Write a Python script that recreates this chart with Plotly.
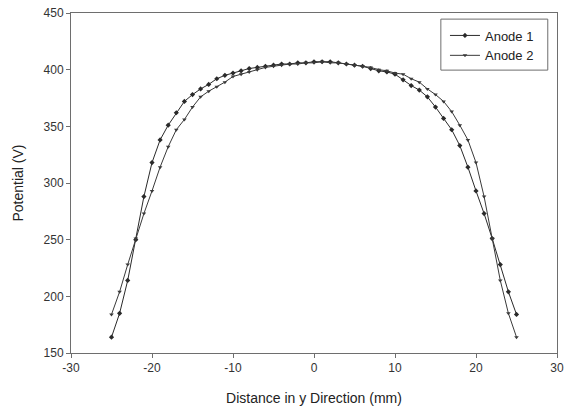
import plotly.graph_objects as go

distance = list(range(-25, 26))
anode1 = [164, 185, 214, 250, 288, 318, 338, 351, 362, 372, 378, 383, 387, 392, 395, 397,
          399, 401, 402, 403, 404, 405, 405, 406, 406, 407, 407, 407, 406, 405, 404, 403,
          401, 399, 398, 396, 391, 386, 382, 376, 367, 357, 347, 333, 314, 293, 273, 251,
          228, 204, 184]
anode2 = [184, 204, 228, 251, 273, 293, 314, 332, 347, 356, 367, 376, 381, 385, 389, 394,
          396, 398, 400, 402, 403, 404, 405, 405, 406, 406, 407, 406, 406, 405, 404, 403,
          402, 400, 399, 397, 396, 392, 389, 383, 378, 372, 363, 351, 338, 318, 288, 251,
          214, 185, 164]

xticks = [-30, -20, -10, 0, 10, 20, 30]
xticklabels = ["-30", "-20", "-10", "0", "10", "20", "30"]
yticks = [150, 200, 250, 300, 350, 400, 450]
yticklabels = ["150", "200", "250", "300", "350", "400", "450"]

fig = go.Figure()
fig.add_trace(go.Scatter(x=distance, y=anode1, name="Anode 1", mode="lines+markers",
                         line=dict(color="#2a2a2a", width=1),
                         marker=dict(symbol="diamond", size=4, color="#2a2a2a")))
fig.add_trace(go.Scatter(x=distance, y=anode2, name="Anode 2", mode="lines+markers",
                         line=dict(color="#3a3a3a", width=1),
                         marker=dict(symbol="triangle-down", size=4, color="#3a3a3a")))

axis_common = dict(showgrid=False, zeroline=False, showline=True, linecolor="#6e6e6e",
                   linewidth=1, mirror=True, ticks="outside", ticklen=4, automargin=False,
                   ticklabeloverflow="allow",
                   tickcolor="#6e6e6e", tickfont=dict(family="Liberation Sans, Arial", size=12, color="#333"))

fig.update_xaxes(range=[-30, 30], tickvals=xticks, ticktext=xticklabels,
                 title=dict(text="Distance in y Direction (mm)",
                            font=dict(family="Liberation Sans, Arial", size=14, color="#222"), standoff=18),
                 **axis_common)
fig.update_yaxes(range=[150, 450], tickvals=yticks, ticktext=yticklabels,
                 title=dict(text="Potential (V)",
                            font=dict(family="Liberation Sans, Arial", size=14, color="#222"), standoff=16),
                 **axis_common)

# legend frame drawn as a paper-referenced rectangle
fig.add_shape(type="rect", xref="paper", yref="paper",
              x0=0.761, x1=0.981, y0=0.832, y1=0.982,
              line=dict(color="#6e6e6e", width=1), fillcolor="white", layer="above")

fig.update_layout(
    width=564, height=412,
    margin=dict(l=71, r=7, t=13, b=59),
    plot_bgcolor="white", paper_bgcolor="white",
    legend=dict(x=0.7695, y=0.978, xanchor="left", yanchor="top",
                borderwidth=0, bgcolor="rgba(0,0,0,0)",
                font=dict(family="Liberation Sans, Arial", size=13, color="#222"),
                itemwidth=30, tracegroupgap=0),
    showlegend=True,
)

fig.write_html("out.html", config={"displayModeBar": False},
               post_script="document.body.style.margin='0';document.body.style.overflow='hidden';")
